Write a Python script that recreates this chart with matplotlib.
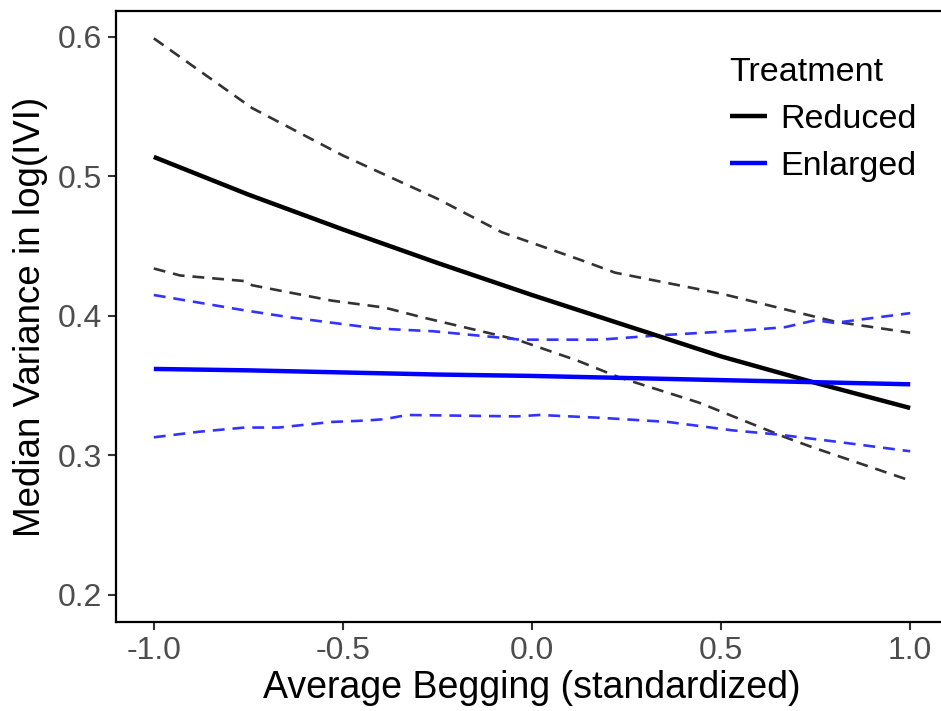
import numpy as np
import matplotlib
matplotlib.use("Agg")
import matplotlib.pyplot as plt

plt.rcParams['font.family'] = ['Liberation Sans', 'DejaVu Sans']

# fitted lines
fit_x = [-1.0, -0.75, -0.5, -0.25, 0.0, 0.25, 0.5, 0.75, 1.0]
reduced_fit = [0.514, 0.487, 0.462, 0.438, 0.415, 0.393, 0.371, 0.352, 0.334]
enlarged_fit = [0.362, 0.361, 0.3595, 0.358, 0.357, 0.3555, 0.354, 0.3525, 0.351]

# confidence bands (dashed)
red_hi_x = [-1.0, -0.74, -0.5, -0.25, -0.08, 0.13, 0.22, 0.5, 0.71, 0.8, 1.0]
red_hi_y = [0.599, 0.549, 0.515, 0.484, 0.460, 0.440, 0.431, 0.416, 0.402, 0.396, 0.388]
red_lo_x = [-1.0, -0.93, -0.76, -0.74, -0.53, -0.39, -0.29, -0.04, 0.12, 0.23, 0.44, 0.67, 0.74, 1.0]
red_lo_y = [0.434, 0.429, 0.425, 0.422, 0.411, 0.406, 0.399, 0.383, 0.368, 0.356, 0.338, 0.313, 0.306, 0.282]
enl_hi_x = [-1.0, -0.76, -0.64, -0.41, -0.26, -0.03, 0.18, 0.33, 0.58, 0.67, 0.75, 0.8, 1.0]
enl_hi_y = [0.415, 0.404, 0.399, 0.391, 0.389, 0.383, 0.383, 0.386, 0.390, 0.392, 0.397, 0.395, 0.402]
enl_lo_x = [-1.0, -0.88, -0.76, -0.67, -0.53, -0.44, -0.39, -0.33, -0.04, 0.02, 0.18, 0.36, 0.53, 0.65, 0.8, 1.0]
enl_lo_y = [0.313, 0.317, 0.320, 0.320, 0.324, 0.325, 0.326, 0.329, 0.328, 0.329, 0.327, 0.324, 0.318, 0.315, 0.310, 0.303]

x_ticks = [-1.0, -0.5, 0.0, 0.5, 1.0]
y_ticks = [0.2, 0.3, 0.4, 0.5, 0.6]

fig = plt.figure(figsize=(9.41, 7.11), dpi=100)
ax = fig.add_axes([116 / 941, 89 / 711, 832 / 941, 611 / 711])

dash = (0, (4.5, 3))
ax.plot(red_hi_x, red_hi_y, color='#333333', lw=1.9, linestyle=dash)
ax.plot(red_lo_x, red_lo_y, color='#333333', lw=1.9, linestyle=dash)
ax.plot(enl_hi_x, enl_hi_y, color='#3333ff', lw=1.9, linestyle=dash)
ax.plot(enl_lo_x, enl_lo_y, color='#3333ff', lw=1.9, linestyle=dash)
ax.plot(fit_x, reduced_fit, color='black', lw=3.2, label='Reduced', solid_capstyle='butt')
ax.plot(fit_x, enlarged_fit, color='#0000ff', lw=3.2, label='Enlarged', solid_capstyle='butt')

ax.set_xlim(-1.1, 1.1)
ax.set_ylim(0.1806, 0.6186)
ax.set_xticks(x_ticks)
ax.set_xticklabels(['-1.0', '-0.5', '0.0', '0.5', '1.0'])
ax.set_yticks(y_ticks)
ax.set_yticklabels(['0.2', '0.3', '0.4', '0.5', '0.6'])
ax.tick_params(labelsize=23, labelcolor='#4d4d4d', color='#333333', length=6, width=1.5, pad=4)

for s in ['left', 'bottom', 'top']:
    ax.spines[s].set_linewidth(1.6)
    ax.spines[s].set_color('black')
ax.spines['right'].set_visible(False)

ax.set_xlabel('Average Begging (standardized)', fontsize=27, labelpad=3)
ax.set_ylabel('Median Variance in log(IVI)', fontsize=26.5, labelpad=7)

leg = ax.legend(title='Treatment', loc='upper left', bbox_to_anchor=(716 / 941, 1 - 43 / 711),
                bbox_transform=fig.transFigure, frameon=False, fontsize=24.5, title_fontsize=24.5,
                handlelength=1.1, handletextpad=0.4, labelspacing=0.48, alignment='left',
                borderaxespad=0)

fig.savefig('out.png', dpi=100)
